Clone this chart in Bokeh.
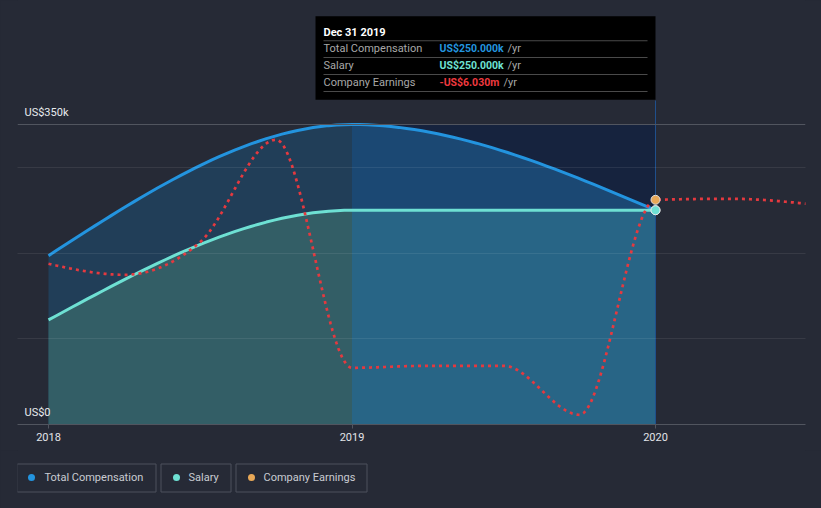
import numpy as np
from bokeh.plotting import figure
from bokeh.layouts import column
from bokeh.models import Range1d, FixedTicker, Label, BoxAnnotation, Span
from bokeh.core.properties import value
from bokeh.embed import file_html
from bokeh.resources import INLINE

# ---------------- data ----------------
comp_x = [2018.0, 2019.0, 2020.0]            # Dec 31 2017, Dec 31 2018, Dec 31 2019
total_comp = [197000, 350000, 250000]        # US$
salary = [122000, 250000, 250000]            # US$
earn_x = [2018.0, 2018.25, 2018.5, 2018.75, 2019.0, 2019.25, 2019.5,
          2019.75, 2020.0, 2020.25, 2020.5]
earnings = [-12.43, -13.53, -10.25, -0.03, -22.83, -22.63, -22.63,
            -27.53, -6.03, -5.93, -6.43]     # US$ millions
x_ticks = [2018, 2019, 2020]
x_tick_labels = ["2018", "2019", "2020"]
y_label_values = [0, 350000]
y_label_texts = ["US$0", "US$350k"]
legend_names = ["Total Compensation", "Salary", "Company Earnings"]
tooltip_title = "Dec 31 2019"
tooltip_rows = ["Total Compensation", "Salary", "Company Earnings"]
tooltip_values = ["US$250.000k", "US$250.000k", "-US$6.030m"]

# ---------------- styling ----------------
BG = "#262a36"
BLUE = "#2394df"
TEAL = "#6ee0d3"
RED = "#e5393f"
ORANGE = "#e8a857"
FONT = "Roboto"

W = 821
MAIN_H = 450
LEG_H = 58
FRAME_H = 424
BL, BR = 17, 16
Y_MAX = 350000 * FRAME_H / 300.0


def monotone_curve(xs, ys, n=40):
    """Render a d3-style monotoneX curve as dense points (drawing only)."""
    xs = list(map(float, xs)); ys = list(map(float, ys))
    m = len(xs)
    t = [0.0] * m
    for i in range(1, m - 1):
        h0 = xs[i] - xs[i - 1]; h1 = xs[i + 1] - xs[i]
        s0 = (ys[i] - ys[i - 1]) / h0; s1 = (ys[i + 1] - ys[i]) / h1
        p_ = (s0 * h1 + s1 * h0) / (h0 + h1)
        t[i] = (np.sign(s0) + np.sign(s1)) * min(abs(s0), abs(s1), 0.5 * abs(p_))
    t[0] = (3 * (ys[1] - ys[0]) / (xs[1] - xs[0]) - t[1]) / 2
    t[-1] = (3 * (ys[-1] - ys[-2]) / (xs[-1] - xs[-2]) - t[-2]) / 2
    segs = []
    for i in range(m - 1):
        x0, x1, y0, y1 = xs[i], xs[i + 1], ys[i], ys[i + 1]
        dx = (x1 - x0) / 3
        P = [(x0, y0), (x0 + dx, y0 + dx * t[i]), (x1 - dx, y1 - dx * t[i + 1]), (x1, y1)]
        u = np.linspace(0, 1, n)
        b = [(1 - u) ** 3, 3 * u * (1 - u) ** 2, 3 * u ** 2 * (1 - u), u ** 3]
        sx = sum(b[k] * P[k][0] for k in range(4))
        sy = sum(b[k] * P[k][1] for k in range(4))
        segs.append((sx, sy))
    return segs


p = figure(width=W, height=MAIN_H, output_backend="svg", toolbar_location=None,
           x_range=Range1d(2018 - 31 / 303.5, 2018 + 757 / 303.5),
           y_range=Range1d(0, Y_MAX),
           y_axis_location=None,
           min_border_left=BL, min_border_right=BR, min_border_top=0,
           min_border_bottom=MAIN_H - FRAME_H)
p.extra_y_ranges = {"earn": Range1d(-28.5, 13.9)}
p.background_fill_color = BG
p.border_fill_color = BG
p.outline_line_color = None

# grid
p.xgrid.visible = False
p.ygrid.ticker = FixedTicker(ticks=[100000, 200000, 300000])
p.ygrid.grid_line_color = "white"
p.ygrid.grid_line_alpha = 0.08
p.ygrid.level = "overlay"

# x axis
p.xaxis.ticker = FixedTicker(ticks=x_ticks)
p.xaxis.major_label_overrides = {k: v for k, v in zip(x_ticks, x_tick_labels)}
p.xaxis.axis_line_color = "#51555f"
p.xaxis.major_tick_line_color = "#51555f"
p.xaxis.major_tick_out = 4
p.xaxis.major_tick_in = 0
p.xaxis.minor_tick_line_color = None
p.xaxis.major_label_text_color = "#e2e4e8"
p.xaxis.major_label_text_font = FONT
p.xaxis.major_label_text_font_size = "11px"
p.xaxis.major_label_standoff = 4

# hover band between last two data points
p.quad(left=[comp_x[1]], right=[comp_x[2]], bottom=[0], top=[max(total_comp)],
       fill_color="#16233e", line_color=None)

tc = monotone_curve(comp_x, total_comp)
sc = monotone_curve(comp_x, salary)
ec = monotone_curve(earn_x, earnings)

tot_cols = ["#213e58", "#1b4873"]
sal_cols = ["#335e66", "#286586"]
for i, (sx, sy) in enumerate(tc):
    p.varea(x=sx, y1=0, y2=sy, fill_color=tot_cols[i])
for i, (sx, sy) in enumerate(sc):
    p.varea(x=sx, y1=0, y2=sy, fill_color=sal_cols[i])

# 350k line
p.add_layout(Span(location=max(total_comp), dimension="width",
                  line_color="#51555f", line_width=1, level="overlay"))

# tooltip pointer line
p.segment(x0=[comp_x[-1]], y0=[0], x1=[comp_x[-1]], y1=[350000 * 324 / 300.0],
          line_color="#1f4f8c", line_width=1)

tx = np.concatenate([s[0] for s in tc]); ty = np.concatenate([s[1] for s in tc])
sx_ = np.concatenate([s[0] for s in sc]); sy_ = np.concatenate([s[1] for s in sc])
p.line(tx, ty, line_color=BLUE, line_width=3)
p.line(sx_, sy_, line_color=TEAL, line_width=3)
ex = np.concatenate([s[0] for s in ec]); ey = np.concatenate([s[1] for s in ec])
p.line(ex, ey, line_color=RED, line_width=2.7, line_dash="3 4", y_range_name="earn")

# end points
p.scatter([comp_x[-1]], [total_comp[-1]], size=9, fill_color=BLUE, line_color="#dddddd")
p.scatter([comp_x[-1]], [salary[-1]], size=9, fill_color=TEAL, line_color="#e8e8e8")
p.scatter([earn_x[8]], [earnings[8]], size=9, fill_color=ORANGE, line_color="#dddddd",
          y_range_name="earn")

# y labels (inside plot)
for v, s in zip(y_label_values, y_label_texts):
    p.add_layout(Label(x=7, x_units="screen", y=v, y_offset=6, text=s,
                       text_baseline="bottom", text_align="left",
                       text_color="#e8eaee", text_font=FONT, text_font_size="11px"))

# tooltip
p.add_layout(BoxAnnotation(left=298, right=638, top=408.3, bottom=324.7,
                           left_units="screen", right_units="screen",
                           top_units="screen", bottom_units="screen",
                           fill_color="black", fill_alpha=1, line_color=None, level="overlay"))
p.add_layout(Label(x=306, y=392.3, x_units="screen", y_units="screen", text=tooltip_title,
                   text_baseline="middle", text_color="white", text_font=FONT,
                   text_font_style="bold", text_font_size="11px", level="overlay"))
for sep_y in [383.7, 367.0, 350.0, 333.0]:
    p.add_layout(BoxAnnotation(left=306, right=630, top=sep_y + 0.5, bottom=sep_y - 0.5,
                               left_units="screen", right_units="screen",
                               top_units="screen", bottom_units="screen",
                               fill_color="#4a4a4a", fill_alpha=1, line_color=None,
                               level="overlay"))
row_y = [375.7, 359.0, 342.0]
val_cols = [BLUE, TEAL, "#f0393f"]
yr_x = [490, 490, 486]
for ry, name, val, col, yx in zip(row_y, tooltip_rows, tooltip_values, val_cols, yr_x):
    p.add_layout(Label(x=306, y=ry, x_units="screen", y_units="screen", text=name,
                       text_baseline="middle", text_color="#a8a8a8", text_font=FONT,
                       text_font_size="11px", level="overlay"))
    p.add_layout(Label(x=422, y=ry, x_units="screen", y_units="screen", text=val,
                       text_baseline="middle", text_color=col, text_font=FONT,
                       text_font_style="bold", text_font_size="10.5px", level="overlay"))
    p.add_layout(Label(x=yx, y=ry, x_units="screen", y_units="screen", text="/yr",
                       text_baseline="middle", text_color="#a8a8a8", text_font=FONT,
                       text_font_size="11px", level="overlay"))

# ---------------- legend strip (x/y in page pixels) ----------------
leg = figure(width=W, height=LEG_H, output_backend="svg", toolbar_location=None,
             x_range=Range1d(BL, W - BR), y_range=Range1d(LEG_H, 0),
             x_axis_location=None, y_axis_location=None,
             min_border_left=BL, min_border_right=BR, min_border_top=0,
             min_border_bottom=0)
leg.background_fill_color = BG
leg.border_fill_color = BG
leg.outline_line_color = None
leg.grid.visible = False

box_left = [16.5, 160.5, 235.5]
box_right = [155.5, 230.5, 366.5]
dot_x = [31, 176, 251]
text_x = [44, 188, 263]
leg_cols = [BLUE, TEAL, ORANGE]
leg.quad(left=box_left, right=box_right, top=[13.5] * 3, bottom=[41.5] * 3,
         fill_color=None, line_color="#4c515c", line_width=1)
leg.scatter(dot_x, [27] * 3, size=7, fill_color=leg_cols, line_color=None)
leg.text(x=text_x, y=[27] * 3, text=legend_names, text_baseline="middle",
         text_align="left", text_color="#c9ccd2", text_font=value(FONT),
         text_font_size="11px")

layout = column(p, leg, spacing=0)
html = file_html(layout, INLINE)
html = html.replace("<body>", '<body style="margin:0;background:%s;">' % BG, 1)
html = html.replace("</head>", "<style>html,body{margin:0;background:%s;}</style></head>" % BG, 1)
open("out.html", "w").write(html)
